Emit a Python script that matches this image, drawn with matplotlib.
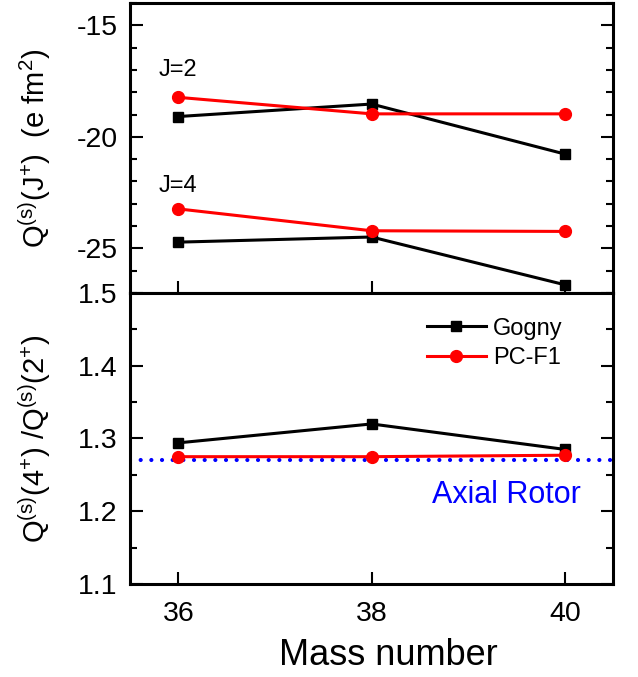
import matplotlib
matplotlib.use('Agg')
import matplotlib.pyplot as plt
from matplotlib.ticker import MultipleLocator

plt.rcParams['font.family'] = ['Liberation Sans', 'DejaVu Sans']
plt.rcParams['mathtext.fontset'] = 'custom'
plt.rcParams['mathtext.rm'] = 'Liberation Sans'
plt.rcParams['mathtext.it'] = 'Liberation Sans'
plt.rcParams['axes.unicode_minus'] = False

# данные
mass = [36, 38, 40]
gogny_j2 = [-19.09, -18.53, -20.77]
pcf1_j2 = [-18.23, -18.97, -18.97]
gogny_j4 = [-24.72, -24.49, -26.63]
pcf1_j4 = [-23.23, -24.21, -24.24]
gogny_ratio = [1.294, 1.320, 1.285]
pcf1_ratio = [1.275, 1.275, 1.277]
axial_rotor = 1.27

fig = plt.figure(figsize=(6.38, 6.77), dpi=100)
ax1 = fig.add_axes([0.2038, 0.5672, 0.7572, 0.4284])
ax2 = fig.add_axes([0.2038, 0.1374, 0.7572, 0.4298])

blk = dict(color='black', marker='s', markersize=7, lw=2.2)
red = dict(color='red', marker='o', markersize=8.5, lw=2.2)

ax1.plot(mass, gogny_j2, **blk)
ax1.plot(mass, pcf1_j2, **red)
ax1.plot(mass, gogny_j4, **blk)
ax1.plot(mass, pcf1_j4, **red)
ax1.text(36, -17.0, 'J=2', fontsize=17, ha='center', va='center')
ax1.text(36, -22.2, 'J=4', fontsize=17, ha='center', va='center')

# линия аксиального ротора
ax2.axhline(axial_rotor, color='blue', ls=(0, (0.01, 2.55)), lw=3, dash_capstyle='round')
ax2.plot(mass, gogny_ratio, label='Gogny', **blk)
ax2.plot(mass, pcf1_ratio, label='PC-F1', **red)
ax2.text(39.4, 1.222, 'Axial Rotor', color='blue', fontsize=22, ha='center', va='center')
ax2.legend(loc='upper left', bbox_to_anchor=(0.595, 0.948), frameon=False, fontsize=17,
           handlelength=2.5, handletextpad=0.3, borderaxespad=0, labelspacing=0.31)

for ax in (ax1, ax2):
    ax.set_xlim(35.5, 40.5)
    ax.set_xticks(mass)
    for s in ax.spines.values():
        s.set_linewidth(2.2)
    ax.tick_params(direction='in', which='both', right=True, labelsize=20.5, width=1.5)
    ax.tick_params(which='major', length=9)
    ax.tick_params(which='minor', length=5)
    ax.tick_params(axis='y', pad=9)
    ax.tick_params(axis='x', which='minor', bottom=False, top=False)
    ax.yaxis.set_label_coords(-0.16, 0.5)

ax1.set_ylim(-27, -14)
ax1.yaxis.set_major_locator(MultipleLocator(5))
ax1.yaxis.set_minor_locator(MultipleLocator(1))
ax1.set_yticks([-15, -20, -25])
ax1.tick_params(axis='x', labelbottom=False)
ax1.set_ylabel(r'Q$^{(s)}$(J$^{+}$)  (e fm$^{2}$)', fontsize=21)

ax2.set_ylim(1.1, 1.5)
ax2.yaxis.set_major_locator(MultipleLocator(0.1))
ax2.yaxis.set_minor_locator(MultipleLocator(0.05))
ax2.tick_params(axis='x', pad=12)
ax2.set_xlabel('Mass number', fontsize=26)
ax2.xaxis.set_label_coords(0.534, -0.185)
ax2.set_ylabel(r'Q$^{(s)}$(4$^{+}$) /Q$^{(s)}$(2$^{+}$)', fontsize=21)

fig.savefig('out.png', dpi=100)
